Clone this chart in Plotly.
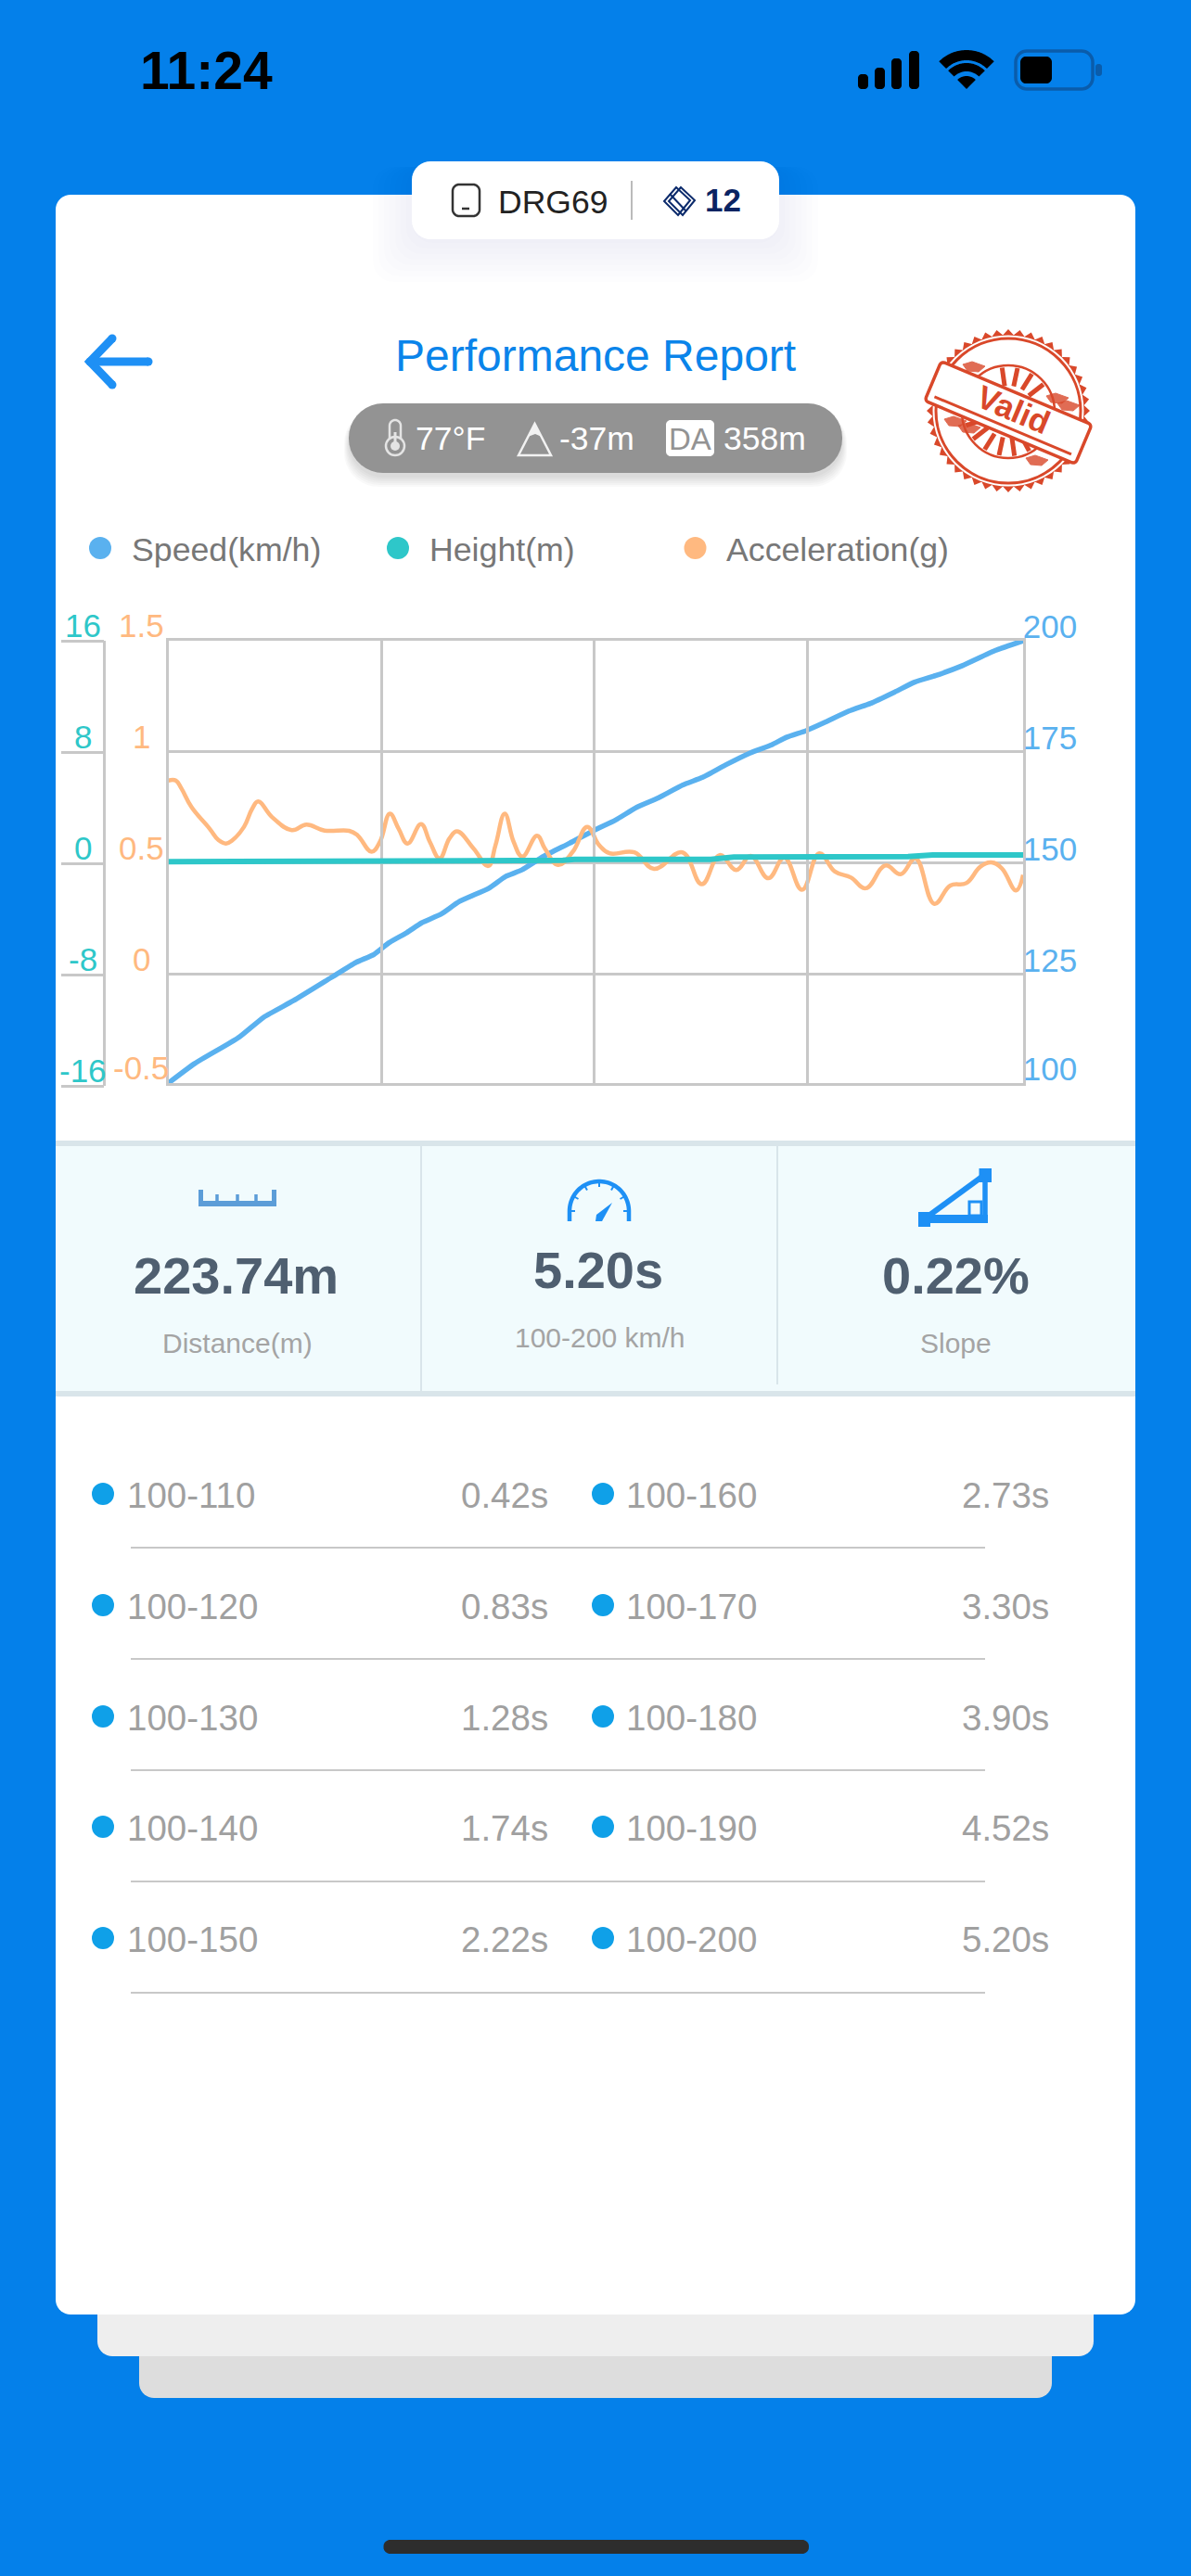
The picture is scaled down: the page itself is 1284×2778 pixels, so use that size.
import numpy as np
import plotly.graph_objects as go

W, H = 1284, 2778
FONT = "Liberation Sans"

# chart data (x axis is seconds, 0 - 5.2)
speed_t = [0, .16, .43, .58, .76, .99, 1.14, 1.25, 1.34, 1.45, 1.54, 1.66, 1.77, 1.95, 2.05, 2.15, 2.28,
           2.44, 2.59, 2.72, 2.85, 2.98, 3.13, 3.25, 3.39, 3.54, 3.67, 3.76, 3.88, 3.99, 4.14, 4.27, 4.42,
           4.54, 4.67, 4.83, 5.03, 5.2]
speed = [100.6, 105.0, 110.9, 115.4, 119.1, 124.3, 127.7, 129.5, 132.1, 134.4, 136.6, 138.6, 141.4, 144.4,
         147.0, 148.5, 151.5, 154.5, 157.4, 159.7, 162.6, 164.7, 167.6, 169.3, 172.1, 174.8, 176.6, 178.3,
         179.8, 181.6, 184.2, 185.9, 188.5, 190.7, 192.2, 194.4, 197.8, 200]

height_t = [0, .28, .39, 2.40, 2.47, 3.30, 3.44, 3.90, 3.95, 4.50, 4.65, 5.2]
height = [.12, .12, .21, .21, .29, .29, .45, .45, .48, .48, .6, .6]

accel_t = [0, .045, .08, .14, .25, .305, .35, .39, .46, .51, .546, .63, .75, .84, .95, 1.10, 1.15, 1.236,
           1.287, 1.347, 1.40, 1.455, 1.537, 1.59, 1.65, 1.71, 1.756, 1.856, 1.946, 1.99, 2.046, 2.10, 2.153,
           2.243, 2.29, 2.37, 2.46, 2.548, 2.62, 2.684, 2.835, 2.954, 3.127, 3.245, 3.354, 3.455, 3.543, 3.65,
           3.747, 3.855, 3.96, 4.055, 4.153, 4.243, 4.362, 4.455, 4.545, 4.66, 4.757, 4.854, 4.94, 5.006,
           5.07, 5.157, 5.2]
accel = [.872, .872, .835, .753, .656, .604, .589, .604, .664, .746, .778, .708, .649, .674, .647, .646, .626,
         .552, .597, .723, .656, .589, .676, .597, .522, .612, .644, .567, .488, .582, .723, .597, .53,
         .624, .567, .493, .552, .664, .582, .545, .549, .475, .549, .406, .537, .47, .533, .433,
         .525, .381, .545, .463, .436, .388, .49, .451, .522, .318, .4, .411, .485, .504,
         .478, .378, .448]

time_ticks = [0, 1.3, 2.59, 3.89, 5.2]
speed_ticks = [100.6, 125, 150, 175, 200]
speed_labels = ["100", "125", "150", "175", "200"]
accel_ticks = [-.4875, 0, .5, 1, 1.5]
accel_labels = ["-0.5", "0", "0.5", "1", "1.5"]
height_ticks = [-16, -8, 0, 8, 16]
height_labels = ["-16", "-8", "0", "8", "16"]

split_left = ["100-110", "100-120", "100-130", "100-140", "100-150"]
split_left_t = ["0.42s", "0.83s", "1.28s", "1.74s", "2.22s"]
split_right = ["100-160", "100-170", "100-180", "100-190", "100-200"]
split_right_t = ["2.73s", "3.30s", "3.90s", "4.52s", "5.20s"]

BLUE_BG = "#0480EA"
GRID = "#C8C8C8"
C_SPEED = "#5AB1EF"
C_HEIGHT = "#2EC7C9"
C_ACCEL = "#FFB980"
C_ICON = "#1E90F5"
RED = "#D9482A"

shapes = []
notes = []


def fx(x):
    return x / W


def fy(y):
    return 1 - y / H


def poly(pts, fill=None, line=None, width=0, close=True, opacity=1):
    d = "M" + " L".join(f"{fx(x):.5f},{fy(y):.5f}" for x, y in pts) + (" Z" if close else "")
    shapes.append(dict(type="path", path=d, xref="paper", yref="paper", layer="below", opacity=opacity,
                       fillcolor=fill if fill else "rgba(0,0,0,0)",
                       line=dict(color=line if line else "rgba(0,0,0,0)", width=width)))


def arc(cx, cy, r, a0, a1, n=48):
    a = np.radians(np.linspace(a0, a1, n))
    return list(zip(cx + r * np.cos(a), cy + r * np.sin(a)))


def rrect(x0, y0, x1, y1, r, **kw):
    pts = arc(x1 - r, y0 + r, r, -90, 0, 10) + arc(x1 - r, y1 - r, r, 0, 90, 10) \
        + arc(x0 + r, y1 - r, r, 90, 180, 10) + arc(x0 + r, y0 + r, r, 180, 270, 10)
    poly(pts, **kw)


def seg(x0, y0, x1, y1, color, width):
    poly([(x0, y0), (x1, y1)], line=color, width=width, close=False)


def dot(cx, cy, r, color, line=None, width=0):
    shapes.append(dict(type="circle", xref="paper", yref="paper", layer="below",
                       x0=fx(cx - r), x1=fx(cx + r), y0=fy(cy + r), y1=fy(cy - r),
                       fillcolor=color if color else "rgba(0,0,0,0)",
                       line=dict(color=line if line else "rgba(0,0,0,0)", width=width)))


def txt(x, y, s, size, color, anchor="center", bold=False, angle=0):
    notes.append(dict(x=fx(x), y=fy(y), xref="paper", yref="paper", text=f"<b>{s}</b>" if bold else s,
                      showarrow=False, xanchor=anchor, yanchor="middle", textangle=angle,
                      font=dict(family=FONT, size=size, color=color)))


# --- stacked cards
rrect(150, 2500, 1134, 2586, 16, fill="#DDDDDD")
rrect(105, 2450, 1179, 2541, 16, fill="#EEEEEE")
rrect(60, 210, 1224, 2496, 16, fill="#FFFFFF")
rrect(413.5, 2739, 872, 2754, 7, fill="#2D2D2D")

# --- status bar
txt(222, 76, "11:24", 57, "#000000", bold=True)
for x0, top in zip([925, 943, 961, 980], [80, 73, 63, 55]):
    rrect(x0, top, x0 + 11, 96, 4, fill="#000000")
for r_out, r_in in [(42, 31), (28, 19)]:
    poly(arc(1042, 96, r_out, -135, -45) + arc(1042, 96, r_in, -45, -135), fill="#000000")
poly([(1042, 96)] + arc(1042, 96, 14, -135, -45, 10), fill="#000000")
rrect(1095, 55, 1178, 96, 12, line="#0A5CAB", width=3.5)
rrect(1100, 61, 1134, 90, 6, fill="#000000")
rrect(1181, 69, 1188, 82, 3, fill="#0A5CAB")

# --- device tab
for i in range(8):
    rrect(444 - 6 * i, 180, 840 + 6 * i, 262 + 6 * i, 22, fill="rgba(40,60,80,0.006)")
rrect(444, 174, 840, 258, 20, fill="#FFFFFF")
rrect(488, 199, 517, 233, 7, line="#333333", width=2.5)
seg(498, 225, 506, 225, "#333333", 2.5)
txt(596, 218, "DRG69", 35.5, "#222222")
seg(681, 195, 681, 237, "#BBBBBB", 2)
for off in (0, 5):
    poly([(729 + off, 202), (744 + off, 216), (731 + off, 232), (716 + off, 217)], line="#0B2A6B", width=2)
seg(722, 209, 740, 228, "#0B2A6B", 2)
txt(779, 215, "12", 35, "#0A2463", bold=True)

# --- header
poly([(121, 365), (97, 390), (121, 415)], line=C_ICON, width=9, close=False)
seg(99, 390, 160, 390, C_ICON, 9)
for ex, ey in [(121, 365), (97, 390), (121, 415), (160, 390)]:
    dot(ex, ey, 4.5, C_ICON)
txt(642, 383, "Performance Report", 48, "#0A84EA")

for i in range(6):
    rrect(376 - i, 441, 908 + i, 515 + 2 * i, 37, fill="rgba(0,0,0,0.022)")
rrect(376, 435, 908, 510, 37, fill="#939393")
rrect(420, 453, 432, 482, 6, line="#E4E4E4", width=2.5)
dot(426, 481, 10, "#939393", "#E4E4E4", 2.5)
dot(426, 481, 5, "#E4E4E4")
seg(426, 466, 426, 480, "#E4E4E4", 3)
txt(485, 473, "77°F", 35.5, "#FFFFFF")
poly([(559, 491), (576.5, 457), (594, 491)], line="#F2F2F2", width=2.5)
poly([(569, 471), (576.5, 457), (584, 471), (577, 468)], fill="#F2F2F2")
txt(643, 473, "-37m", 35.5, "#FFFFFF")
rrect(718, 453, 770, 492, 5, fill="#FFFFFF")
txt(744, 473, "DA", 33, "#939393")
txt(824, 473, "358m", 35.5, "#FFFFFF")

# --- valid stamp
scx, scy = 1087, 443
teeth = []
for k in range(44):
    a = 360 * k / 44
    teeth += arc(scx, scy, 82, a - 4, a - 4, 1) + arc(scx, scy, 88, a, a, 1) + arc(scx, scy, 82, a + 4, a + 4, 1)
poly(teeth, fill=RED)
dot(scx, scy, 81.5, "#FFFFFF")
dot(scx, scy, 78, None, RED, 3)
dot(scx, scy + 1, 50, None, RED, 2.5)
for a in [-120, -100, -80, -60, 40, 60, 80, 100, 120, 140]:
    ca, sa = np.cos(np.radians(a + 22)), np.sin(np.radians(a + 22))
    seg(scx + 28 * ca, scy + 1 + 28 * sa, scx + 48 * ca, scy + 1 + 48 * sa, RED, 5)
for bx, by, bw in [(1050, 396, 5), (1140, 430, 7), (1030, 455, 6), (1118, 497, 7), (1152, 438, 4), (1045, 462, 4)]:
    poly([(bx - 12, by - 3), (bx - 2, by - 6), (bx + 12, by - 1), (bx + 5, by + 5), (bx - 7, by + 4)], fill=RED,
         line=RED, width=1, opacity=.8)
rot = np.radians(22.8)


def band(u, v):
    return (1087 + u * np.cos(rot) - v * np.sin(rot), 445 + u * np.sin(rot) + v * np.cos(rot))


band_pts = []
for cu, cv, a0 in [(84, -19, -90), (84, 19, 0), (-84, 19, 90), (-84, -19, 180)]:
    for a in np.radians(np.linspace(a0, a0 + 90, 6)):
        band_pts.append(band(cu + 4 * np.cos(a), cv + 4 * np.sin(a)))
poly(band_pts, fill="#FFFFFF", line=RED, width=3.5)
seg(*band(-80, 15), *band(80, 15), RED, 3)
txt(1093, 441, "Valid", 35, RED, bold=True, angle=22.8)

# --- legend row
for cx, c, label, tx in [(108, C_SPEED, "Speed(km/h)", 140), (429, C_HEIGHT, "Height(m)", 461),
                         (749.5, C_ACCEL, "Acceleration(g)", 781)]:
    dot(cx, 591, 12, c)
    txt(tx, 592.5, label, 35.7, "#777777", anchor="left")

# --- stat strip
poly([(60, 1233), (1224, 1233), (1224, 1503), (60, 1503)], fill="#F1FBFD")
seg(60, 1233, 1224, 1233, "#D9E5EA", 6)
seg(60, 1503, 1224, 1503, "#D9E5EA", 6)
seg(454, 1236, 454, 1500, "#D9E5EA", 2)
seg(838, 1236, 838, 1493, "#D9E5EA", 2)

poly([(214, 1283), (219, 1283), (219, 1295), (293, 1295), (293, 1283), (298, 1283), (298, 1301), (214, 1301)],
     fill="#5C9DD8")
for x in (234, 256, 276):
    seg(x, 1288, x, 1296, "#5C9DD8", 3.5)
poly(arc(646, 1306, 32, 180, 360), line=C_ICON, width=4.5, close=False)
seg(614, 1306, 614, 1317, C_ICON, 4.5)
seg(678, 1306, 678, 1317, C_ICON, 4.5)
for a in [-180, -150, -120, -90, -60, -30, 0]:
    ca, sa = np.cos(np.radians(a)), np.sin(np.radians(a))
    seg(646 + 32 * ca, 1306 + 32 * sa, 646 + 26 * ca, 1306 + 26 * sa, C_ICON, 2)
poly([(660, 1297), (649, 1317), (642, 1317), (643, 1310)], fill=C_ICON)
poly([(990, 1307), (1003, 1307), (1003, 1310), (1065, 1310), (1065, 1319), (1003, 1319), (1003, 1323), (990, 1323)],
     fill=C_ICON)
poly([(1055.5, 1260), (1069, 1260), (1069, 1275), (1055.5, 1275)], fill=C_ICON)
seg(1000, 1312, 1060, 1268, C_ICON, 6)
seg(1062, 1270, 1062, 1312, C_ICON, 5.5)
poly([(1045, 1296), (1058, 1296), (1058, 1311), (1045, 1311)], line=C_ICON, width=3)

txt(254, 1375, "223.74m", 56, "#4F5F70", bold=True)
txt(645, 1369, "5.20s", 56, "#4F5F70", bold=True)
txt(1030, 1375, "0.22%", 56, "#4F5F70", bold=True)
txt(256, 1448, "Distance(m)", 30, "#A4A4A4")
txt(646, 1442, "100-200 km/h", 30, "#A4A4A4")
txt(1030, 1448, "Slope", 30, "#A4A4A4")

# --- split table
row_y = [1612, 1732, 1852, 1971, 2091]
line_y = [1669, 1789, 1909, 2029, 2149]
for i, y in enumerate(row_y):
    dot(111, y - 1, 12, "#0FA0E8")
    dot(650, y - 1, 12, "#0FA0E8")
    txt(135, y, split_left[i], 38.5, "#A0A0A0", anchor="left")
    txt(593, y, split_left_t[i], 38.5, "#A0A0A0", anchor="right")
    txt(673, y, split_right[i], 38.5, "#A0A0A0", anchor="left")
    txt(1133, y, split_right_t[i], 38.5, "#A0A0A0", anchor="right")
    seg(141, line_y[i], 1062, line_y[i], "#C8C8C8", 2)

# left hand axis labels sit centred above their tick, so they follow the axes via yref
for v, s in zip(accel_ticks, accel_labels):
    notes.append(dict(x=fx(152), y=v, xref="paper", yref="y2", text=s, showarrow=False, yshift=17,
                      xanchor="center", yanchor="middle", font=dict(family=FONT, size=35, color=C_ACCEL)))
for v, s in zip(height_ticks, height_labels):
    notes.append(dict(x=fx(90), y=v, xref="paper", yref="y3", text=s, showarrow=False, yshift=17,
                      xanchor="center", yanchor="middle", font=dict(family=FONT, size=35, color=C_HEIGHT)))

fig = go.Figure()
fig.add_trace(go.Scatter(x=speed_t, y=speed, name="Speed(km/h)", mode="lines", yaxis="y",
                         line=dict(color=C_SPEED, width=5.5, shape="spline", smoothing=.5)))
fig.add_trace(go.Scatter(x=height_t, y=height, name="Height(m)", mode="lines", yaxis="y3",
                         line=dict(color=C_HEIGHT, width=6)))
fig.add_trace(go.Scatter(x=accel_t, y=accel, name="Acceleration(g)", mode="lines", yaxis="y2",
                         line=dict(color=C_ACCEL, width=4.5, shape="spline", smoothing=1.2)))

fig.update_layout(
    width=W, height=H, margin=dict(l=0, r=0, t=0, b=0, pad=0, autoexpand=False), showlegend=False,
    paper_bgcolor=BLUE_BG, plot_bgcolor="rgba(0,0,0,0)",
    font=dict(family=FONT), shapes=shapes, annotations=notes,
    xaxis=dict(domain=[fx(181.6), fx(1103)], range=[0, 5.2], tickvals=time_ticks, showticklabels=False,
               showgrid=True, gridcolor=GRID, gridwidth=2.5, zeroline=False, automargin=False,
               showline=True, linecolor=GRID, linewidth=2.5, mirror=True),
    yaxis=dict(domain=[fy(1168), fy(691)], range=[100.6, 200], side="right", tickvals=speed_ticks,
               ticktext=speed_labels, ticklabelposition="outside top", automargin=False,
               ticklabelstandoff=-10, ticklabelshift=9,
               tickfont=dict(family=FONT, size=35, color=C_SPEED),
               showgrid=True, gridcolor=GRID, gridwidth=2.5, zeroline=False,
               showline=True, linecolor=GRID, linewidth=2.5, mirror=True),
    yaxis2=dict(overlaying="y", range=[-.4875, 1.5], side="left", showticklabels=False, showgrid=False,
                zeroline=False, ticks="", automargin=False),
    yaxis3=dict(domain=[fy(1171), fy(691)], range=[-16, 16], anchor="free", position=fx(112.4), side="left",
                tickvals=height_ticks, showticklabels=False, ticks="outside", ticklen=46, tickwidth=2.5,
                tickcolor=GRID, showgrid=False, zeroline=False, showline=True, linecolor=GRID, linewidth=2.5,
                automargin=False),
)

fig.write_html("out.html", config={"displayModeBar": False},
               post_script="document.body.style.margin='0';")
